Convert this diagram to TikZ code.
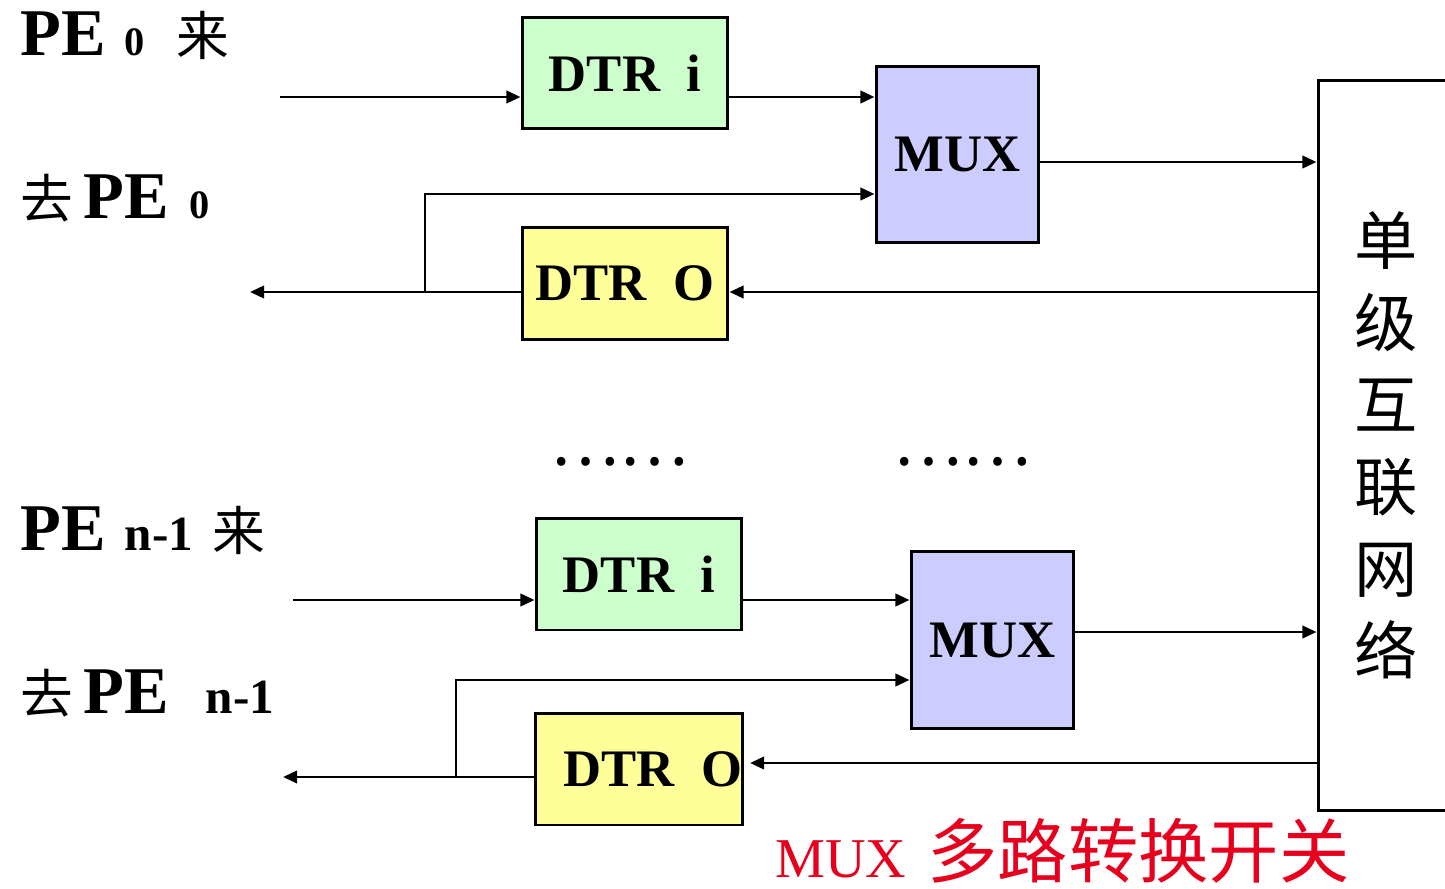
\documentclass[tikz,border=0pt]{standalone}
\usepackage{fontspec}
\setmainfont{Liberation Serif}
\newfontfamily\cjk{Noto Sans CJK SC}
\usepackage{xcolor}
\usetikzlibrary{arrows.meta, positioning}

\definecolor{dtrin}{RGB}{204,255,204}
\definecolor{dtrout}{RGB}{255,255,153}
\definecolor{muxfill}{RGB}{204,204,255}
\definecolor{notered}{RGB}{230,0,30}

\newcommand\pename[1]{{\bfseries\fontsize{38}{38}\selectfont #1}}
\newcommand\penum[2][23]{{\bfseries\fontsize{#1}{#1}\selectfont #2}}
\newcommand\zh[1]{{\cjk\fontsize{30}{30}\selectfont #1}}

\begin{document}
\begin{tikzpicture}[
  x=0.02cm, y=-0.02cm,
  box/.style={draw, line width=1.7pt, inner sep=0pt, font=\bfseries\fontsize{30}{30}\selectfont},
  dtrbox/.style={box, minimum width=4.12cm, minimum height=2.24cm},
  muxbox/.style={box, fill=muxfill, minimum width=3.26cm, minimum height=3.54cm},
  arrow/.style={-{Triangle[length=8pt,width=7pt]}, line width=1.6pt},
  lbl/.style={anchor=base west, inner sep=0pt},
  dots/.style={inner sep=0pt, font=\cjk\fontsize{37}{37}\selectfont}
]
\useasboundingbox (0,0) rectangle (1445,889);

% PE 0 channel
\node[dtrbox, fill=dtrin] (dtri0) at (625,73) {DTR\ \ i};
\node[dtrbox, fill=dtrout] (dtro0) at (625,283.5) {DTR\ \ O};
\node[muxbox] (mux0) at (957.5,154.5) {MUX};

% PE n-1 channel
\node[dtrbox, fill=dtrin] (dtri1) at (639,574) {DTR\ \ i};
\node[dtrbox, fill=dtrout] (dtro1) at (639,769) {\hspace{16pt}DTR\ \ O};
\node[muxbox] (mux1) at (992.5,640) {MUX};

% network
\node[draw, line width=1.7pt, minimum width=2.72cm, minimum height=14.62cm, inner sep=0pt,
  align=center, font=\cjk\fontsize{36}{46.7}\selectfont] (net) at (1386,445.5)
  {单\\级\\互\\联\\网\\络};

% labels
\node[lbl] (from0) at (20,55) {\pename{PE}\hspace{11pt}\penum{0}\hspace{18pt}\zh{来}};
\node[lbl] (to0) at (20,218) {\zh{去}\hspace{6pt}\pename{PE}\hspace{12pt}\penum{0}};
\node[lbl] (from1) at (20,550) {\pename{PE}\hspace{11pt}\penum[28]{n-1}\hspace{11pt}\zh{来}};
\node[lbl] (to1) at (20,713) {\zh{去}\hspace{6pt}\pename{PE}\hspace{21pt}\penum[28]{n-1}};

\node[dots] (dots0) at (619,462) {……};
\node[dots] (dots1) at (962,462) {……};

\node[lbl, text=notered] (note) at (775,877)
  {\fontsize{32}{32}\selectfont MUX\hspace{12pt}{\cjk\fontsize{40}{40}\selectfont 多路转换开关}};

% connectors, upper
\coordinate (in0) at (280,97);
\coordinate (tap0) at (425,194);
\coordinate (out0) at (250,292);
\coordinate (mo0) at ([yshift=-0.15cm]mux0.east);
\draw[arrow] (in0) -- (in0 -| dtri0.west);
\draw[arrow] (in0 -| dtri0.east) -- (in0 -| mux0.west);
\draw[arrow] (mo0) -- (mo0 -| net.west);
\draw[arrow] (tap0 |- out0) -- (tap0) -- (tap0 -| mux0.west);
\draw[arrow] (out0 -| net.west) -- (out0 -| dtro0.east);
\draw[arrow] (out0 -| dtro0.west) -- (out0);

% connectors, lower
\coordinate (in1) at (293,600);
\coordinate (tap1) at (456,680);
\coordinate (out1) at (283,777);
\coordinate (back1) at (750,763);
\coordinate (mo1) at ([yshift=0.16cm]mux1.east);
\draw[arrow] (in1) -- (in1 -| dtri1.west);
\draw[arrow] (in1 -| dtri1.east) -- (in1 -| mux1.west);
\draw[arrow] (mo1) -- (mo1 -| net.west);
\draw[arrow] (tap1 |- out1) -- (tap1) -- (tap1 -| mux1.west);
\draw[arrow] (back1 -| net.west) -- (back1);
\draw[arrow] (out1 -| dtro1.west) -- (out1);

\end{tikzpicture}
\end{document}
